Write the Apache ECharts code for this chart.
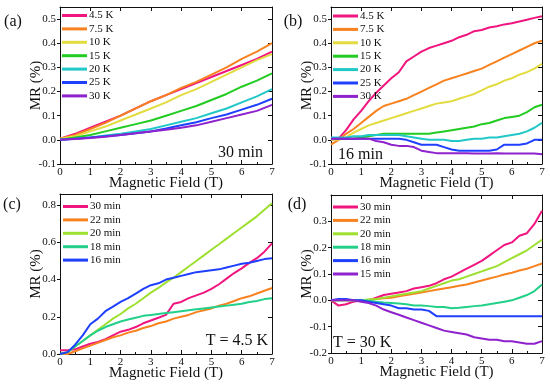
<!DOCTYPE html>
<html><head><meta charset="utf-8">
<script src="https://cdn.jsdelivr.net/npm/echarts@6/dist/echarts.min.js"></script>
<style>html,body{margin:0;padding:0;background:#fff}#c{width:550px;height:387px}</style>
</head><body><div id="c"></div>
<script>
// ---------- data ----------
const X05 = [0,0.5,1,1.5,2,2.5,3,3.5,4,4.5,5,5.5,6,6.5,7];
const X025 = [0,0.25,0.5,0.75,1,1.25,1.5,1.75,2,2.25,2.5,2.75,3,3.25,3.5,3.75,4,4.25,4.5,4.75,5,5.25,5.5,5.75,6,6.25,6.5,6.75,7];
const xTicks = [0,1,2,3,4,5,6,7];
const yTicksA = [-0.1,0,0.1,0.2,0.3,0.4,0.5];
const yTicksB = [-0.1,0,0.1,0.2,0.3,0.4,0.5];
const yTicksC = [0,0.2,0.4,0.6,0.8];
const yTicksD = [-0.2,-0.1,0,0.1,0.2,0.3];

const namesAB = ['4.5 K','7.5 K','10 K','15 K','20 K','25 K','30 K'];
const namesC = ['30 min','22 min','20 min','18 min','16 min'];
const namesD = ['30 min','22 min','20 min','18 min','16 min','15 min'];

// panel (a): 30 min, X05
const a45 = [0.005,0.025,0.05,0.075,0.10,0.13,0.16,0.185,0.21,0.235,0.26,0.285,0.31,0.335,0.365];
const a75 = [0.005,0.02,0.045,0.07,0.10,0.13,0.16,0.185,0.215,0.24,0.27,0.30,0.335,0.365,0.40];
const a10 = [0.005,0.015,0.035,0.055,0.08,0.105,0.13,0.155,0.185,0.21,0.24,0.27,0.30,0.33,0.355];
const a15 = [0,0.01,0.02,0.035,0.05,0.065,0.08,0.10,0.12,0.14,0.165,0.19,0.22,0.245,0.275];
const a20 = [0,0.005,0.01,0.018,0.025,0.035,0.045,0.06,0.075,0.09,0.11,0.13,0.155,0.18,0.21];
const a25 = [0,0.005,0.01,0.015,0.02,0.027,0.035,0.047,0.06,0.073,0.09,0.105,0.125,0.145,0.17];
const a30 = [0,0.004,0.008,0.013,0.02,0.027,0.035,0.042,0.05,0.06,0.075,0.09,0.105,0.12,0.145];

// panel (b): 16 min, X025
const b45 = [0,0.005,0.04,0.085,0.12,0.16,0.195,0.225,0.255,0.28,0.325,0.345,0.365,0.38,0.39,0.40,0.41,0.425,0.435,0.45,0.455,0.465,0.47,0.478,0.483,0.49,0.497,0.505,0.512];
const b75 = [-0.02,0,0.025,0.045,0.07,0.095,0.12,0.14,0.15,0.16,0.17,0.185,0.20,0.215,0.23,0.245,0.255,0.265,0.275,0.285,0.295,0.31,0.325,0.34,0.355,0.37,0.385,0.40,0.41];
const b10 = [0,0,0.01,0.03,0.045,0.06,0.07,0.08,0.09,0.10,0.11,0.12,0.13,0.14,0.15,0.155,0.16,0.17,0.18,0.19,0.205,0.22,0.23,0.245,0.255,0.27,0.28,0.295,0.315];
const b15 = [0.005,0.005,0.005,0.005,0.01,0.015,0.02,0.025,0.025,0.025,0.025,0.025,0.025,0.025,0.03,0.035,0.04,0.045,0.05,0.055,0.065,0.07,0.08,0.09,0.095,0.10,0.115,0.135,0.145];
const b20 = [0.01,0.01,0.01,0.015,0.015,0.02,0.02,0.02,0.02,0.02,0.015,0.01,0.005,0,0,0,-0.005,-0.005,0,0.005,0.005,0.01,0.01,0.015,0.02,0.025,0.035,0.05,0.07];
const b25 = [0.005,0.005,0.005,0.005,0.005,0.005,0.005,0.005,0.005,0.005,0,-0.01,-0.02,-0.02,-0.02,-0.03,-0.04,-0.045,-0.045,-0.045,-0.045,-0.045,-0.04,-0.02,-0.02,-0.02,-0.015,0,0];
const b30 = [0.005,0.005,0.005,0.005,0.005,0.005,-0.005,-0.01,-0.02,-0.025,-0.025,-0.03,-0.045,-0.05,-0.055,-0.055,-0.055,-0.055,-0.055,-0.057,-0.057,-0.057,-0.055,-0.057,-0.057,-0.057,-0.057,-0.057,-0.06];

// panel (c): T = 4.5 K, X025
const c30 = [0.02,0.02,0.025,0.04,0.055,0.065,0.08,0.10,0.12,0.13,0.145,0.165,0.18,0.195,0.21,0.27,0.28,0.30,0.315,0.33,0.35,0.375,0.405,0.435,0.46,0.49,0.515,0.55,0.595];
const c22 = [0,0,0.015,0.03,0.045,0.06,0.075,0.09,0.10,0.115,0.125,0.14,0.15,0.165,0.175,0.19,0.20,0.21,0.225,0.235,0.245,0.26,0.27,0.285,0.30,0.31,0.325,0.34,0.355];
const c20 = [0,0.01,0.04,0.07,0.10,0.13,0.16,0.19,0.215,0.245,0.27,0.30,0.33,0.355,0.385,0.41,0.44,0.47,0.50,0.53,0.56,0.59,0.62,0.65,0.68,0.71,0.74,0.775,0.81];
const c18 = [0,0.01,0.04,0.07,0.10,0.125,0.145,0.16,0.175,0.185,0.195,0.205,0.21,0.215,0.22,0.225,0.23,0.235,0.24,0.245,0.25,0.255,0.26,0.265,0.27,0.28,0.285,0.295,0.30];
const c16 = [0,0.01,0.05,0.10,0.16,0.19,0.23,0.255,0.28,0.30,0.325,0.35,0.37,0.38,0.40,0.41,0.42,0.43,0.44,0.445,0.45,0.455,0.465,0.475,0.485,0.49,0.50,0.51,0.515];

// panel (d): T = 30 K, X025
const d30 = [0,-0.02,-0.015,-0.005,0,0,0.01,0.02,0.025,0.03,0.035,0.045,0.05,0.055,0.065,0.08,0.09,0.105,0.12,0.135,0.15,0.17,0.19,0.21,0.22,0.245,0.255,0.29,0.34];
const d22 = [0,0,0,0,0,0.002,0.005,0.008,0.01,0.015,0.02,0.025,0.03,0.035,0.04,0.045,0.05,0.055,0.06,0.068,0.075,0.083,0.09,0.098,0.105,0.113,0.12,0.13,0.14];
const d20 = [0,0,0,0,0,0.003,0.005,0.01,0.015,0.02,0.025,0.03,0.035,0.045,0.055,0.065,0.075,0.08,0.09,0.10,0.11,0.12,0.13,0.145,0.16,0.175,0.19,0.21,0.23];
const d18 = [0,0,0,0,0,-0.002,-0.005,-0.008,-0.01,-0.012,-0.015,-0.02,-0.02,-0.022,-0.025,-0.025,-0.03,-0.028,-0.025,-0.022,-0.02,-0.015,-0.01,-0.005,0,0.01,0.02,0.035,0.06];
const d16 = [0,0.005,0.005,0,0,-0.005,-0.01,-0.015,-0.02,-0.03,-0.03,-0.035,-0.035,-0.04,-0.06,-0.06,-0.06,-0.06,-0.06,-0.06,-0.06,-0.06,-0.06,-0.06,-0.06,-0.06,-0.06,-0.06,-0.06];
const d15 = [0,0,0,0,-0.005,-0.01,-0.02,-0.035,-0.045,-0.055,-0.065,-0.075,-0.085,-0.095,-0.105,-0.115,-0.12,-0.125,-0.13,-0.14,-0.145,-0.15,-0.15,-0.155,-0.155,-0.16,-0.165,-0.165,-0.155];

// ---------- styles ----------
const COL = {
  '4.5 K':'#f0157f','7.5 K':'#f7821f','10 K':'#e2dc40','15 K':'#22cc22','20 K':'#22c8c8','25 K':'#1f40ff','30 K':'#8e22cc',
  '30 min':'#f0157f','22 min':'#f7821f','20 min':'#9ee030','18 min':'#22d08a','16 min':'#1f40ff','15 min':'#8e22cc'
};
const FONT = 'Liberation Serif';
const INK = '#111';

const grids = [
  {left:60, top:7, width:212, height:157},
  {left:331, top:7, width:211, height:157},
  {left:60, top:194, width:212, height:160},
  {left:331, top:195, width:211, height:158}
];
const yRanges = [
  {min:-0.1, max:0.55, interval:0.1, ticks:yTicksA},
  {min:-0.1, max:0.55, interval:0.1, ticks:yTicksB},
  {min:0, max:0.86, interval:0.2, ticks:yTicksC},
  {min:-0.2, max:0.4, interval:0.1, ticks:yTicksD}
];

const xAxes = [], yAxes = [];
grids.forEach((g,i)=>{
  xAxes.push({type:'value', gridIndex:i, min:0, max:7, interval:1, position:'bottom',
    name:'Magnetic Field (T)', nameLocation:'middle', nameGap:12, nameMoveOverlap:false,
    nameTextStyle:{fontFamily:FONT, fontSize:15, color:INK},
    axisLine:{onZero:false, lineStyle:{color:INK, width:1}},
    axisTick:{inside:true, length:4, lineStyle:{color:INK}},
    minorTick:{show:true, splitNumber:2, length:2, lineStyle:{color:INK}},
    axisLabel:{fontFamily:FONT, fontSize:11, color:INK, margin:3, customValues:xTicks},
    splitLine:{show:false}});
  xAxes.push({type:'value', gridIndex:i, min:0, max:7, interval:1, position:'top',
    axisLine:{onZero:false, lineStyle:{color:INK, width:1}},
    axisTick:{inside:true, length:4, lineStyle:{color:INK}},
    axisLabel:{show:false}, splitLine:{show:false}});
  const r = yRanges[i];
  yAxes.push({type:'value', gridIndex:i, min:r.min, max:r.max, interval:r.interval, position:'left',
    name:'MR (%)', nameLocation:'middle', nameGap:16, nameMoveOverlap:false,
    nameTextStyle:{fontFamily:FONT, fontSize:15, color:INK},
    axisLine:{show:true, onZero:false, lineStyle:{color:INK, width:1}},
    axisTick:{show:true, inside:false, length:3, lineStyle:{color:INK}, customValues:r.ticks},
    axisLabel:{fontFamily:FONT, fontSize:11, color:INK, margin:4, customValues:r.ticks,
      formatter:v=>v.toFixed(1)},
    splitLine:{show:false}});
  yAxes.push({type:'value', gridIndex:i, min:r.min, max:r.max, interval:r.interval, position:'right',
    axisLine:{show:true, onZero:false, lineStyle:{color:INK, width:1}},
    axisTick:{show:true, inside:true, length:4, lineStyle:{color:INK}, customValues:r.ticks},
    axisLabel:{show:false}, splitLine:{show:false}});
});

function mk(name, xs, ys, gi){
  return {type:'line', name:name, xAxisIndex:gi*2, yAxisIndex:gi*2, showSymbol:false, symbol:'none',
    color:COL[name], lineStyle:{width:2, color:COL[name]}, animation:false,
    data: xs.map((x,k)=>[x, ys[k]])};
}
const series = [
  mk('4.5 K',X05,a45,0), mk('7.5 K',X05,a75,0), mk('10 K',X05,a10,0), mk('15 K',X05,a15,0),
  mk('20 K',X05,a20,0), mk('25 K',X05,a25,0), mk('30 K',X05,a30,0),
  mk('4.5 K',X025,b45,1), mk('7.5 K',X025,b75,1), mk('10 K',X025,b10,1), mk('15 K',X025,b15,1),
  mk('20 K',X025,b20,1), mk('25 K',X025,b25,1), mk('30 K',X025,b30,1),
  mk('30 min',X025,c30,2), mk('22 min',X025,c22,2), mk('20 min',X025,c20,2), mk('18 min',X025,c18,2), mk('16 min',X025,c16,2),
  mk('30 min',X025,d30,3), mk('22 min',X025,d22,3), mk('20 min',X025,d20,3), mk('18 min',X025,d18,3), mk('16 min',X025,d16,3), mk('15 min',X025,d15,3)
];

function legend(names, left, top){
  return {orient:'vertical', left:left, top:top, padding:0, itemGap:0.4, itemWidth:25, itemHeight:3,
    icon:'rect', selectedMode:false,
    textStyle:{fontFamily:FONT, fontSize:11, color:INK, lineHeight:13, padding:[0,0,0,-3]},
    data: names.map(n=>({name:n, itemStyle:{color:COL[n]}}))};
}

function txt(t, x, y, size, align){
  return {type:'text', x:x, y:y, style:{text:t, fontFamily:FONT, fontSize:size, fill:INK,
    textAlign:align||'center', textVerticalAlign:'middle'}};
}

const chart = echarts.init(document.getElementById('c'), null, {renderer:'canvas'});
chart.setOption({
  backgroundColor:'#fff',
  animation:false,
  grid: grids,
  xAxis: xAxes,
  yAxis: yAxes,
  legend: [legend(namesAB,62,9), legend(namesAB,333,9.5), legend(namesC,63,200), legend(namesD,333,200.5)],
  series: series,
  graphic: [
    txt('(a)',13,22,16), txt('(b)',293,22,16), txt('(c)',12,205,16), txt('(d)',297,205,16),
    txt('30 min',263,153,16,'right'), txt('16 min',338,155,16,'left'),
    txt('T = 4.5 K',268,341,16,'right'), txt('T = 30 K',333,343,16,'left')
  ]
});
</script></body></html>
